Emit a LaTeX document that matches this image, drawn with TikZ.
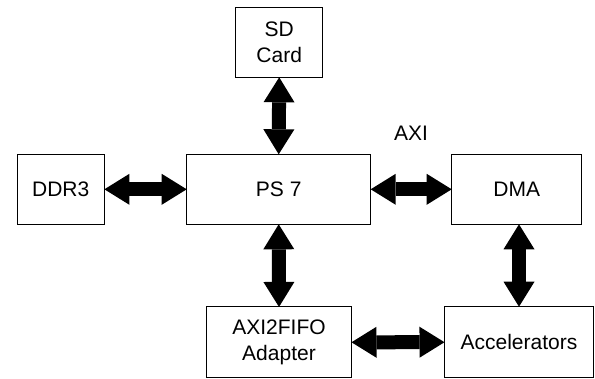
\documentclass[tikz,border=0pt]{standalone}
\usepackage{fontspec}
\setmainfont{Liberation Sans}
\usetikzlibrary{arrows.meta}
\tikzset{
  box/.style={draw,line width=1pt,inner sep=0pt,outer sep=0pt,minimum height=70pt,align=center,font=\fontsize{21}{26}\selectfont},
  link/.style={line width=14pt,{Triangle[width=31pt,length=25pt,line width=0pt]}-{Triangle[width=31pt,length=25pt,line width=0pt]}}
}
\begin{document}
\begin{tikzpicture}[x=1pt,y=-1pt]
  \useasboundingbox (0,0) rectangle (595,379);
  \node[box,minimum width=87pt] (sd) at (279.2,42.3) {SD\\Card};
  \node[box,minimum width=87.4pt] (ddr) at (60.7,189.3) {DDR3};
  \node[box,minimum width=184pt] (ps) at (278.7,189.3) {PS 7};
  \node[box,minimum width=130pt] (dma) at (516.7,189.3) {DMA};
  \node[box,minimum width=145pt,minimum height=70.7pt] (fifo) at (279,342.3) {AXI2FIFO\\Adapter};
  \node[box,minimum width=149pt,minimum height=71pt] (acc) at (519,342.2) {Accelerators};
  \node[font=\fontsize{21}{26}\selectfont] (axi) at (411,133) {AXI};

  \draw[link] (sd.south) -- (ps.north);
  \draw[link] (ddr) -- (ps);
  \draw[link] (ps) -- (dma);
  \draw[link] (ps.south) -- (fifo.north);
  \draw[link] (dma.south -| acc.north) -- (acc.north);
  \draw[link] (fifo) -- (acc);
\end{tikzpicture}
\end{document}
